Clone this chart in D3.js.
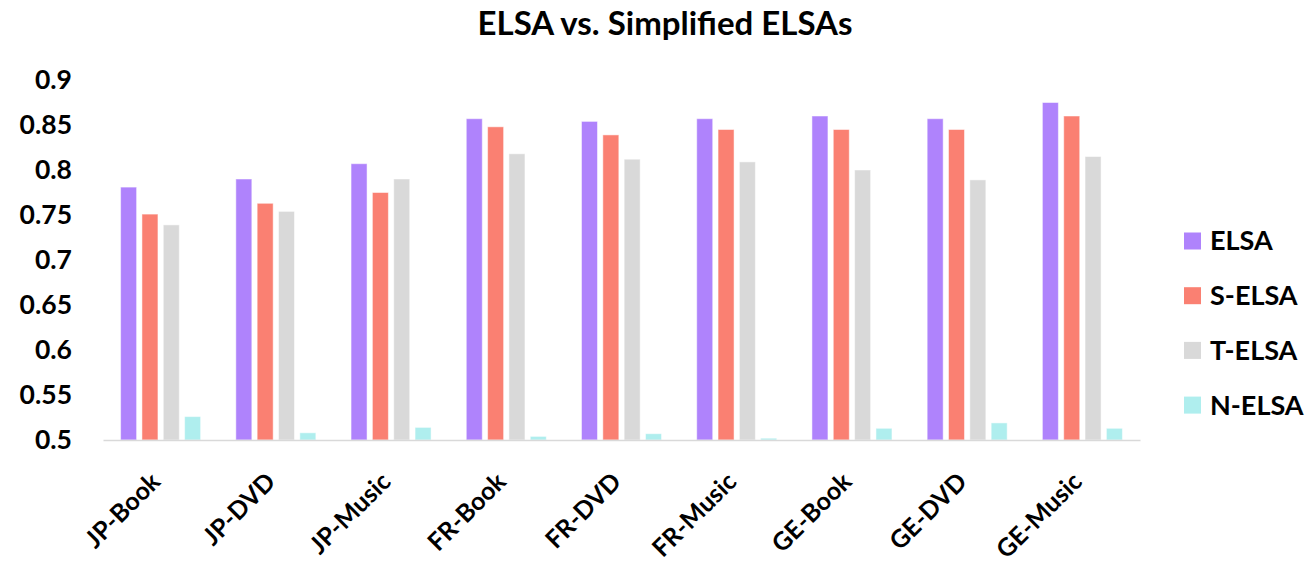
<!DOCTYPE html>
<html>
<head>
<meta charset="utf-8">
<script src="https://cdn.jsdelivr.net/npm/d3@7"></script>
<style>
  html, body { margin: 0; padding: 0; background: #fff; }
  svg { display: block; font-family: Lato, "Open Sans", sans-serif; font-weight: 700; }
</style>
</head>
<body>
<svg id="chart" width="1305" height="567"></svg>
<script>
const categories = ["JP-Book", "JP-DVD", "JP-Music", "FR-Book", "FR-DVD", "FR-Music", "GE-Book", "GE-DVD", "GE-Music"];
const seriesNames = ["ELSA", "S-ELSA", "T-ELSA", "N-ELSA"];
const elsa  = [0.781, 0.790, 0.807, 0.857, 0.854, 0.857, 0.860, 0.857, 0.875];
const sElsa = [0.751, 0.763, 0.775, 0.848, 0.839, 0.845, 0.845, 0.845, 0.860];
const tElsa = [0.739, 0.754, 0.790, 0.818, 0.812, 0.809, 0.800, 0.789, 0.815];
const nElsa = [0.526, 0.508, 0.514, 0.504, 0.507, 0.502, 0.513, 0.519, 0.513];
const colors = ["#AF83FC", "#FA8072", "#D9D9D9", "#AFEEEE"];
const yTickValues = [0.5, 0.55, 0.6, 0.65, 0.7, 0.75, 0.8, 0.85, 0.9];
const yTickLabels = ["0.5", "0.55", "0.6", "0.65", "0.7", "0.75", "0.8", "0.85", "0.9"];
const title = "ELSA vs. Simplified ELSAs";

const seriesValues = [elsa, sElsa, tElsa, nElsa];
const svg = d3.select("#chart");

const plot = { left: 103, right: 1140, top: 80, bottom: 440 };

const x0 = d3.scaleBand().domain(categories).range([plot.left, plot.right])
  .paddingInner(0.3056).paddingOuter(0.1528);
const x1 = d3.scaleBand().domain(seriesNames).range([0, x0.bandwidth()])
  .paddingInner(0.25).paddingOuter(0);
const y = d3.scaleLinear().domain([0.5, 0.9]).range([plot.bottom, plot.top]);
const color = d3.scaleOrdinal().domain(seriesNames).range(colors);

// title
svg.append("text")
  .attr("x", 665).attr("y", 35)
  .attr("text-anchor", "middle")
  .attr("font-size", 33)
  .attr("fill", "#000")
  .text(title);

// y axis (labels only)
const yAxis = svg.append("g")
  .attr("transform", `translate(${plot.left},0)`)
  .call(d3.axisLeft(y).tickValues(yTickValues)
    .tickFormat((d, i) => yTickLabels[i]).tickSize(0).tickPadding(31));
yAxis.select(".domain").remove();
yAxis.selectAll("text")
  .attr("font-size", 26.5).attr("font-family", "Lato, sans-serif")
  .attr("font-weight", 700).attr("fill", "#000");

// bars
const groups = svg.append("g").selectAll("g")
  .data(categories)
  .join("g")
  .attr("transform", d => `translate(${x0(d)},0)`);

groups.selectAll("rect")
  .data((c, ci) => seriesNames.map((s, si) => ({ s, v: seriesValues[si][ci] })))
  .join("rect")
  .attr("x", d => x1(d.s))
  .attr("width", x1.bandwidth())
  .attr("y", d => y(d.v))
  .attr("height", d => y(0.5) - y(d.v))
  .attr("fill", d => color(d.s))
  .attr("stroke", "#fff")
  .attr("stroke-opacity", 0.5)
  .attr("stroke-width", 1);

// x axis
const xAxis = svg.append("g")
  .attr("transform", `translate(0,${plot.bottom})`)
  .call(d3.axisBottom(x0).tickSize(0).tickPadding(0));
xAxis.select(".domain").attr("stroke", "#D9D9D9").attr("stroke-width", 1.5);
xAxis.selectAll(".tick text")
  .attr("font-size", 25).attr("font-family", "Lato, sans-serif")
  .attr("font-weight", 700).attr("fill", "#000")
  .attr("text-anchor", "end")
  .attr("y", 0).attr("dy", "0.35em")
  .attr("transform", "translate(-5,37) rotate(-45)");

// legend
const legend = svg.append("g").selectAll("g")
  .data(seriesNames)
  .join("g")
  .attr("transform", (d, i) => `translate(1184,${241 + i * 54.7})`);
legend.append("rect")
  .attr("x", 0).attr("y", -8.5).attr("width", 17).attr("height", 17)
  .attr("fill", d => color(d));
legend.append("text")
  .attr("x", 26).attr("y", 0).attr("dy", "0.35em")
  .attr("font-size", 27).attr("fill", "#000")
  .text(d => d);
</script>
</body>
</html>
